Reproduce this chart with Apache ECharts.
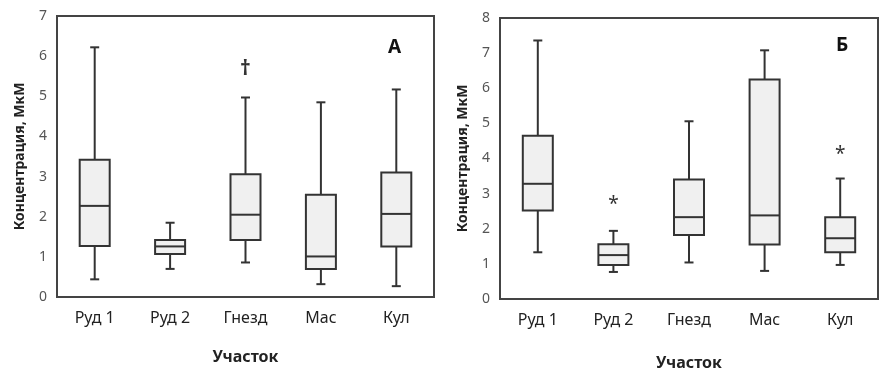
<!DOCTYPE html>
<html>
<head>
<meta charset="utf-8">
<script src="https://cdn.jsdelivr.net/npm/echarts@6/dist/echarts.min.js"></script>
<style>
  html, body { margin: 0; padding: 0; background: #fff; }
  #chart { width: 888px; height: 377px; }
</style>
</head>
<body>
<div id="chart"></div>
<script>
// участки (категории)
const sites = ['Руд 1', 'Руд 2', 'Гнезд', 'Мас', 'Кул'];

// панель А: [min, Q1, медиана, Q3, max]
const statsA = [
  [0.44, 1.27, 2.27, 3.42, 6.22],
  [0.70, 1.07, 1.26, 1.42, 1.85],
  [0.86, 1.42, 2.05, 3.06, 4.97],
  [0.32, 0.70, 1.01, 2.55, 4.85],
  [0.27, 1.26, 2.07, 3.10, 5.17]
];
// выбросы панели А: [индекс участка, значение, знак]
const marksA = [[2, 5.69, '†']];

// панель Б
const statsB = [
  [1.33, 2.52, 3.28, 4.65, 7.36],
  [0.77, 0.97, 1.25, 1.56, 1.94],
  [1.04, 1.82, 2.33, 3.40, 5.06],
  [0.80, 1.55, 2.38, 6.25, 7.08],
  [0.97, 1.33, 1.73, 2.33, 3.43]
];
const marksB = [[1, 2.82, '*'], [4, 4.24, '*']];

const yMaxA = 7;
const yMaxB = 8;

const font = 'Noto Sans';
const dark = '#333';

// рисуем "ящик с усами" вручную, чтобы усы были короче ящика
function boxRender(params, api) {
  const i = api.value(0);
  const lo = api.coord([i, api.value(1)]);
  const q1 = api.coord([i, api.value(2)]);
  const md = api.coord([i, api.value(3)]);
  const q3 = api.coord([i, api.value(4)]);
  const hi = api.coord([i, api.value(5)]);
  const x = lo[0];
  const bw = 30, cw = 9;
  const ls = { stroke: dark, lineWidth: 2 };
  return {
    type: 'group',
    children: [
      { type: 'line', shape: { x1: x, y1: lo[1], x2: x, y2: q1[1] }, style: ls },
      { type: 'line', shape: { x1: x, y1: q3[1], x2: x, y2: hi[1] }, style: ls },
      { type: 'line', shape: { x1: x - cw / 2, y1: lo[1], x2: x + cw / 2, y2: lo[1] }, style: ls },
      { type: 'line', shape: { x1: x - cw / 2, y1: hi[1], x2: x + cw / 2, y2: hi[1] }, style: ls },
      { type: 'rect', shape: { x: x - bw / 2, y: q3[1], width: bw, height: q1[1] - q3[1] },
        style: { fill: '#f0f0f0', stroke: dark, lineWidth: 2 } },
      { type: 'line', shape: { x1: x - bw / 2, y1: md[1], x2: x + bw / 2, y2: md[1] }, style: ls }
    ]
  };
}

const marksAll = { 2: marksA, 3: marksB };

function markRender(params, api) {
  const p = api.coord([api.value(0), api.value(1)]);
  const ch = marksAll[params.seriesIndex][params.dataIndex][2];
  const dagger = ch !== '*';
  return {
    type: 'text',
    x: p[0], y: p[1] + (dagger ? 0 : 5),
    style: {
      text: ch,
      font: (dagger ? 'bold 21px ' : '19px ') + font,
      fill: dark, align: 'center', verticalAlign: 'middle'
    }
  };
}

function toRows(stats) {
  return stats.map((s, i) => [i].concat(s));
}

function xAxisFor(gi) {
  return {
    gridIndex: gi,
    type: 'category',
    data: sites,
    name: 'Участок',
    nameLocation: 'middle',
    nameGap: gi === 0 ? 52 : 56,
    nameTextStyle: { fontFamily: font, fontSize: 16, fontWeight: 'bold', color: '#222' },
    axisLine: { show: false },
    axisTick: { show: false },
    axisLabel: { fontFamily: font, fontSize: 16, color: '#222', margin: 13 }
  };
}

function yAxisFor(gi, max) {
  return {
    gridIndex: gi,
    type: 'value',
    min: 0, max: max, interval: 1,
    name: 'Концентрация, МкМ',
    nameLocation: 'middle',
    nameRotate: 90,
    nameGap: 30,
    nameTextStyle: { fontFamily: font, fontSize: 14, fontWeight: 'bold', color: '#222' },
    axisLine: { show: false },
    axisTick: { show: false },
    splitLine: { show: false },
    axisLabel: { fontFamily: font, fontSize: 14, color: '#555', margin: 10 }
  };
}

const chart = echarts.init(document.getElementById('chart'));
chart.setOption({
  animation: false,
  grid: [
    { left: 57, top: 16, width: 377, height: 281, show: true, borderColor: '#444', borderWidth: 2, backgroundColor: '#fff' },
    { left: 500, top: 18, width: 378, height: 281, show: true, borderColor: '#444', borderWidth: 2, backgroundColor: '#fff' }
  ],
  xAxis: [xAxisFor(0), xAxisFor(1)],
  yAxis: [yAxisFor(0, yMaxA), yAxisFor(1, yMaxB)],
  graphic: [
    { type: 'text', left: 388, top: 38, style: { text: 'А', font: 'bold 19px ' + font, fill: '#111' } },
    { type: 'text', left: 836, top: 36, style: { text: 'Б', font: 'bold 19px ' + font, fill: '#111' } }
  ],
  series: [
    { type: 'custom', xAxisIndex: 0, yAxisIndex: 0, renderItem: boxRender, data: toRows(statsA) },
    { type: 'custom', xAxisIndex: 1, yAxisIndex: 1, renderItem: boxRender, data: toRows(statsB) },
    { type: 'custom', xAxisIndex: 0, yAxisIndex: 0, renderItem: markRender, data: marksA.map(m => [m[0], m[1]]) },
    { type: 'custom', xAxisIndex: 1, yAxisIndex: 1, renderItem: markRender, data: marksB.map(m => [m[0], m[1]]) }
  ]
});
</script>
</body>
</html>
